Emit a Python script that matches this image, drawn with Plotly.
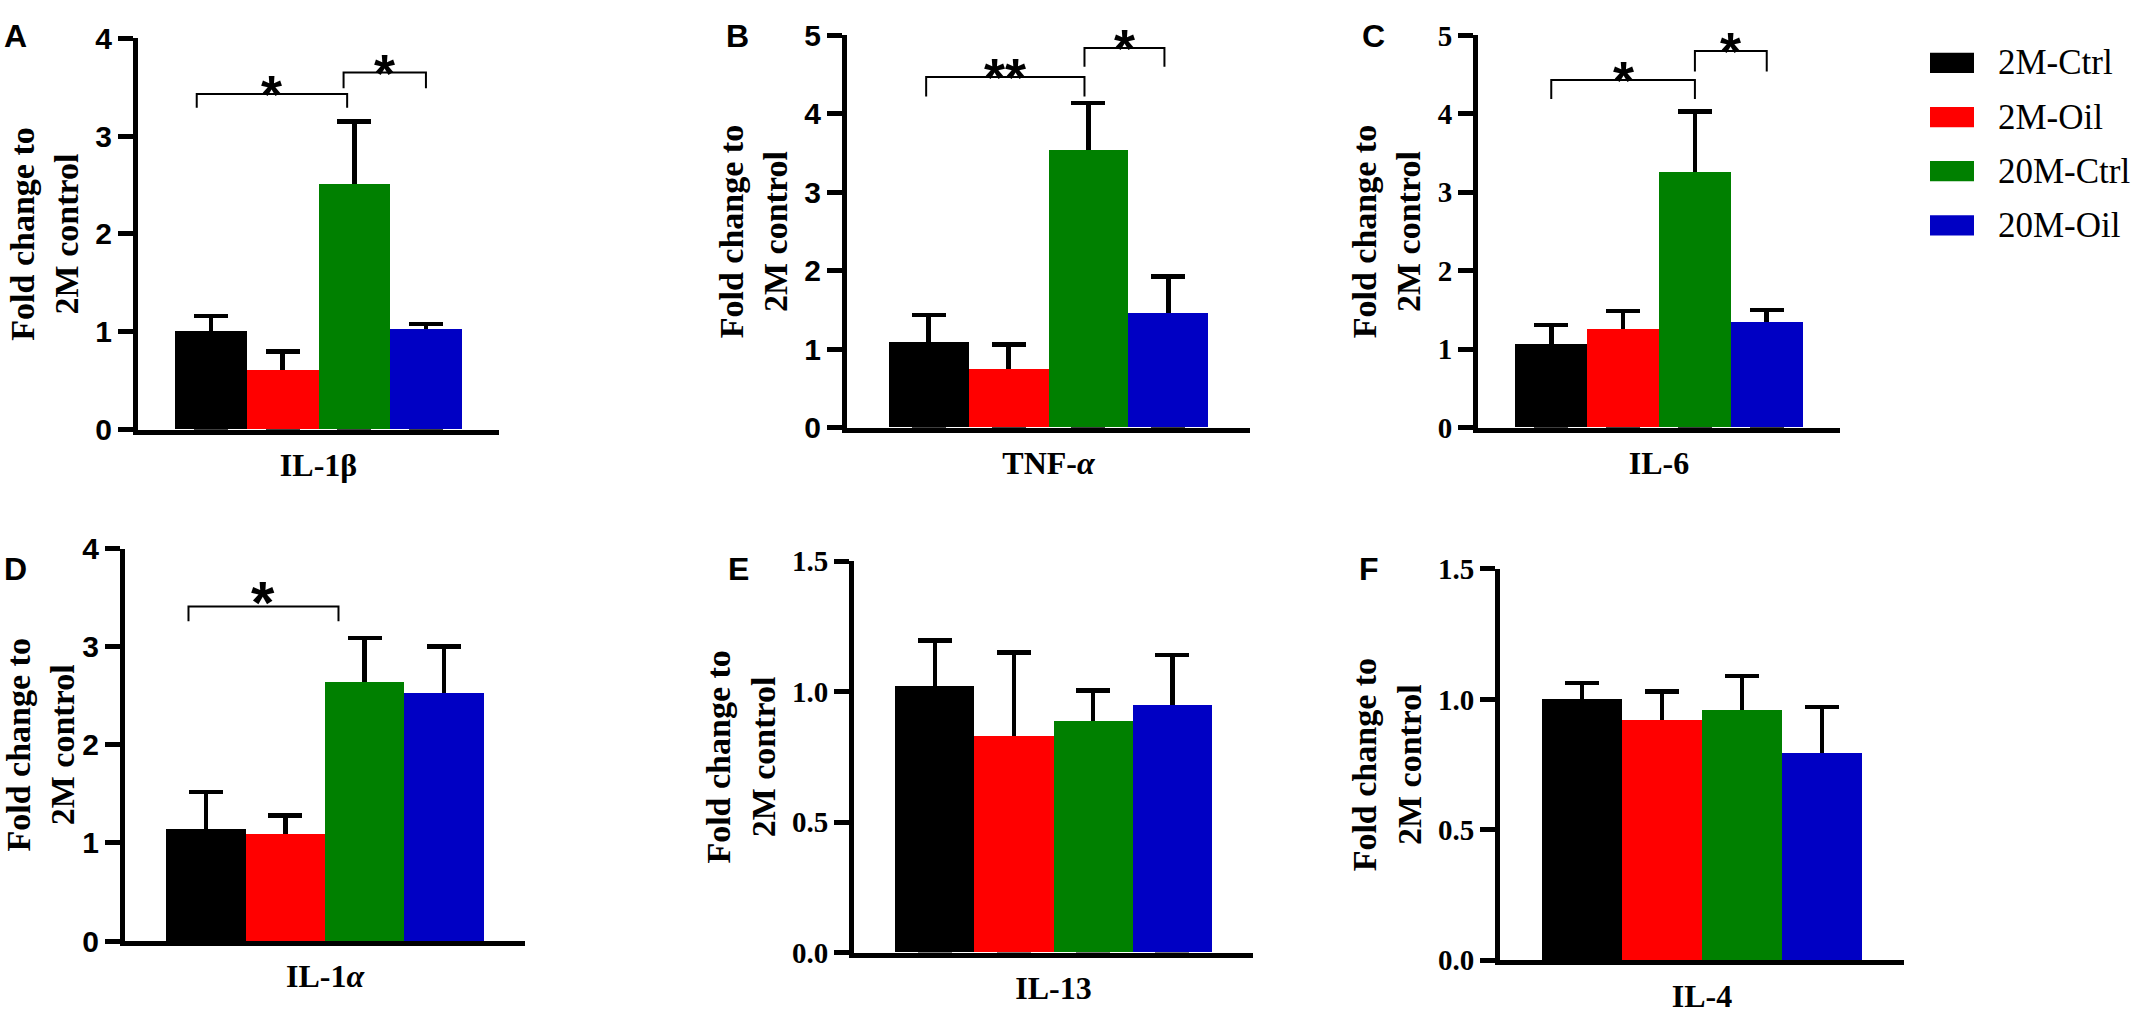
import plotly.graph_objects as go

# groups and colours
groups = ["2M-Ctrl", "2M-Oil", "20M-Ctrl", "20M-Oil"]
colors = ["#000000", "#ff0000", "#008000", "#0000c4"]

panel_letters = ["A", "B", "C", "D", "E", "F"]
cytokines = ["IL-1β", "TNF-<i>α</i>", "IL-6", "IL-1<i>α</i>", "IL-13", "IL-4"]

# fold change (mean) and upper error (SEM) per cytokine, in group order
il1b_mean = [1.01, 0.61, 2.51, 1.03]
il1b_sem = [0.15, 0.19, 0.64, 0.05]
tnfa_mean = [1.09, 0.75, 3.54, 1.46]
tnfa_sem = [0.35, 0.31, 0.60, 0.47]
il6_mean = [1.06, 1.26, 3.26, 1.34]
il6_sem = [0.25, 0.23, 0.77, 0.16]
il1a_mean = [1.15, 1.10, 2.64, 2.53]
il1a_sem = [0.37, 0.18, 0.45, 0.47]
il13_mean = [1.02, 0.83, 0.885, 0.95]
il13_sem = [0.175, 0.32, 0.12, 0.19]
il4_mean = [1.00, 0.92, 0.96, 0.795]
il4_sem = [0.062, 0.11, 0.13, 0.175]

means = [il1b_mean, tnfa_mean, il6_mean, il1a_mean, il13_mean, il4_mean]
sems = [il1b_sem, tnfa_sem, il6_sem, il1a_sem, il13_sem, il4_sem]

y_max = [4, 5, 5, 4, 1.5, 1.5]
y_dtick = [1, 1, 1, 1, 0.5, 0.5]
y_fmt = ["d", "d", "d", "d", ".1f", ".1f"]

# significance brackets (panel, from, to, height, end height, label)
sig_panel = [0, 0, 1, 1, 2, 2, 3]
sig_x0 = [-0.2, 1.85, -0.03, 1.95, 0.0, 2.0, -0.22]
sig_x1 = [1.9, 3.0, 1.95, 2.95, 2.0, 3.0, 1.67]
sig_y = [3.43, 3.65, 4.47, 4.84, 4.43, 4.80, 3.41]
sig_end = [3.29, 3.49, 4.22, 4.60, 4.19, 4.54, 3.26]
sig_label = ["*", "*", "**", "*", "*", "*", "*"]

W, H = 2135, 1016
# plot areas in pixels: left, right, top, bottom
boxes = [(138, 499, 22, 427), (847, 1250, 19, 425), (1478, 1840, 19, 425),
         (125, 525, 550, 956), (854, 1253, 563, 968), (1500, 1904, 571, 976)]
letter_pos = [(15, 20), (737, 20), (1373, 20), (15, 571), (738, 571), (1369, 571)]

SERIF = "Liberation Serif, Times New Roman, serif"
SANS = "Liberation Sans, Arial, sans-serif"
# y tick labels: sans in A, B, D and serif in C, E, F
tick_family = [SANS, SANS, SERIF, SANS, SERIF, SERIF]
tick_size = [30, 30, 29, 30, 29, 29]

fig = go.Figure()
layout = {}
annotations = []
shapes = []

for i in range(6):
    xa = "x" if i == 0 else f"x{i+1}"
    ya = "y" if i == 0 else f"y{i+1}"
    l, r, t, b = boxes[i]

    # error bars live on a transparent bar trace drawn underneath the coloured bars
    fig.add_bar(x=[0, 1, 2, 3], y=means[i], width=1, xaxis=xa, yaxis=ya,
                marker=dict(color="rgba(0,0,0,0)", line=dict(width=0)),
                error_y=dict(type="data", symmetric=False, array=sems[i],
                             arrayminus=means[i], color="black", thickness=4.5, width=17),
                showlegend=False, hoverinfo="skip")
    for g in range(4):
        fig.add_bar(x=[g], y=[means[i][g]], width=1, xaxis=xa, yaxis=ya,
                    name=groups[g], marker=dict(color=colors[g], line=dict(width=0)),
                    showlegend=False)

    layout["xaxis" if i == 0 else f"xaxis{i+1}"] = dict(
        domain=[l / W, r / W], anchor=ya, range=[-1.02, 4.02],
        showline=True, linewidth=5, linecolor="black", ticks="",
        tickvals=[1.5], ticktext=[f"<b>{cytokines[i]}</b>"], ticklabelstandoff=3,
        tickfont=dict(family=SERIF, size=32, color="black"),
        showgrid=False, zeroline=False, fixedrange=True)
    layout["yaxis" if i == 0 else f"yaxis{i+1}"] = dict(
        domain=[1 - b / H, 1 - t / H], anchor=xa, range=[0, y_max[i]],
        tick0=0, dtick=y_dtick[i], tickformat=y_fmt[i],
        ticks="outside", ticklen=15, tickwidth=5, tickcolor="black",
        showline=True, linewidth=5, linecolor="black",
        tickfont=dict(family=tick_family[i], size=tick_size[i], color="black", weight="bold"),
        title=dict(text="Fold change to<br>2M control", standoff=8,
                   font=dict(family=SERIF, size=34, color="black", weight="bold")),
        showgrid=False, zeroline=False, fixedrange=True)

    lx, ly = letter_pos[i]
    annotations.append(dict(text=f"<b>{panel_letters[i]}</b>", x=lx / W, y=1 - ly / H,
                            xref="paper", yref="paper", xanchor="center", yanchor="middle",
                            showarrow=False, font=dict(family=SANS, size=32, color="black")))

# brackets and stars
for k in range(len(sig_panel)):
    p = sig_panel[k]
    xa = "x" if p == 0 else f"x{p+1}"
    ya = "y" if p == 0 else f"y{p+1}"
    shapes.append(dict(type="path", xref=xa, yref=ya,
                       path=f"M {sig_x0[k]},{sig_end[k]} L {sig_x0[k]},{sig_y[k]} "
                            f"L {sig_x1[k]},{sig_y[k]} L {sig_x1[k]},{sig_end[k]}",
                       line=dict(color="black", width=2)))
    annotations.append(dict(text=f"<b>{sig_label[k]}</b>", xref=xa, yref=ya,
                            x=(sig_x0[k] + sig_x1[k]) / 2, y=sig_y[k],
                            xanchor="center", yanchor="bottom", yshift=-32, showarrow=False,
                            font=dict(family=SANS, size=60 if p == 3 else 54, color="black")))

# legend (patch + label)
legend_rows = [47.5, 103.5, 159.5, 215.5]
for g in range(4):
    yc = legend_rows[g]
    shapes.append(dict(type="rect", xref="paper", yref="paper",
                       x0=1930 / W, x1=1974 / W, y0=1 - (yc + 10.5) / H, y1=1 - (yc - 10.5) / H,
                       fillcolor=colors[g], line=dict(width=0)))
    annotations.append(dict(text=groups[g], x=1996 / W, y=1 - yc / H, xref="paper",
                            yref="paper", xanchor="left", yanchor="middle", showarrow=False,
                            font=dict(family=SERIF, size=35, color="black")))

fig.update_layout(**layout)
fig.update_layout(width=W, height=H, margin=dict(l=0, r=0, t=0, b=0),
                  barmode="overlay", bargap=0, showlegend=False,
                  plot_bgcolor="white", paper_bgcolor="white",
                  annotations=annotations, shapes=shapes)

# drop the page's default body margin so the figure fills the window exactly
fig.write_html("out.html", config={"displayModeBar": False},
               post_script="document.body.style.margin='0';")
